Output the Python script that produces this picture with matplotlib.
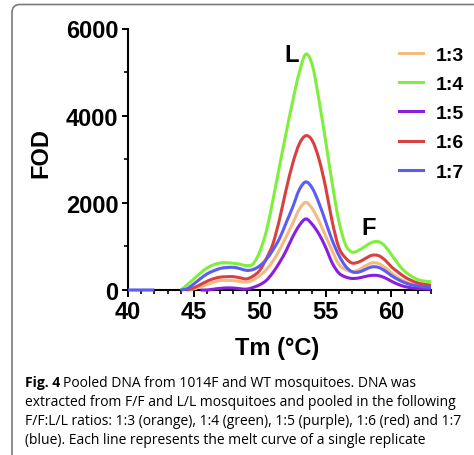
# Melt curves (FOD vs Tm) for pooled DNA at five F/F:L/L ratios
import numpy as np
import matplotlib.pyplot as plt
from matplotlib.patches import FancyBboxPatch, PathPatch
from matplotlib.path import Path
from matplotlib.lines import Line2D
from matplotlib.ticker import MultipleLocator

plt.rcParams['font.family'] = 'Liberation Sans'
plt.rcParams['font.weight'] = 'bold'
plt.rcParams['axes.labelweight'] = 'bold'

nan = np.nan

# temperature grid of the melt curves (deg C)
tm = [40.0, 40.5, 41.0, 41.5, 42.0, 42.5, 43.0, 43.5, 44.0, 44.5,
      45.0, 45.5, 46.0, 46.5, 47.0, 47.5, 48.0, 48.5, 49.0, 49.5,
      50.0, 50.5, 51.0, 51.5, 52.0, 52.5, 53.0, 53.5, 54.0, 54.5,
      55.0, 55.5, 56.0, 56.5, 57.0, 57.5, 58.0, 58.5, 59.0, 59.5,
      60.0, 60.5, 61.0, 61.5, 62.0, 62.5, 63.0]

fod_13 = [nan, nan, nan, nan, nan, nan, nan, nan, nan, 0,
          25, 75, 125, 180, 215, 220, 215, 195, 180, 230,
          330, 470, 660, 920, 1220, 1530, 1850, 2010, 1860, 1580,
          1240, 900, 590, 470, 420, 460, 550, 620, 610, 520,
          390, 280, 200, 140, 100, 75, 65]
fod_14 = [nan, nan, nan, nan, nan, nan, nan, nan, 0, 120,
          255, 390, 505, 580, 620, 625, 612, 590, 560, 600,
          880, 1350, 2060, 2840, 3600, 4330, 4990, 5410, 5150, 4350,
          3420, 2450, 1590, 1050, 870, 910, 1000, 1090, 1110, 1010,
          810, 600, 430, 320, 240, 205, 190]
fod_15 = [nan, nan, nan, nan, nan, nan, nan, nan, nan, nan,
          nan, 0, 0, 20, 38, 48, 45, 30, 20, 60,
          120, 220, 400, 630, 900, 1220, 1480, 1630, 1500, 1280,
          980, 620, 390, 300, 265, 275, 310, 335, 330, 280,
          200, 130, 80, 50, 35, 25, 20]
fod_16 = [nan, nan, nan, nan, nan, nan, nan, nan, nan, 0,
          50, 125, 200, 260, 295, 305, 305, 280, 255, 320,
          450, 720, 1060, 1620, 2300, 2900, 3350, 3540, 3420, 3000,
          2360, 1570, 980, 740, 620, 640, 720, 795, 790, 690,
          530, 410, 300, 220, 160, 130, 110]
fod_17 = [0, 0, 0, 0, 0, nan, nan, nan, 0, 30,
          140, 260, 370, 440, 495, 515, 520, 490, 450, 470,
          555, 700, 920, 1180, 1540, 1900, 2300, 2480, 2330, 1990,
          1570, 1140, 800, 550, 420, 410, 470, 530, 520, 440,
          330, 240, 170, 120, 90, 70, 60]

ratios = ['1:3', '1:4', '1:5', '1:6', '1:7']
colors = ['#f4bb80', '#7ef03c', '#8a1ee0', '#d9413f', '#5b5cf6']
series = [fod_13, fod_14, fod_15, fod_16, fod_17]


def smooth_path(xs, ys):
    """Cubic Bezier path through the points (Catmull-Rom tangents), gaps at NaN."""
    xs = np.asarray(xs, float)
    ys = np.asarray(ys, float)
    verts, codes = [], []
    ok = ~np.isnan(ys)
    i = 0
    while i < len(xs):
        if not ok[i]:
            i += 1
            continue
        j = i
        while j + 1 < len(xs) and ok[j + 1]:
            j += 1
        px, py = xs[i:j + 1], ys[i:j + 1]
        verts.append((px[0], py[0]))
        codes.append(Path.MOVETO)
        n = len(px)
        for k in range(n - 1):
            k0, k3 = max(k - 1, 0), min(k + 2, n - 1)
            c1 = (px[k] + (px[k + 1] - px[k0]) / 6, py[k] + (py[k + 1] - py[k0]) / 6)
            c2 = (px[k + 1] - (px[k3] - px[k]) / 6, py[k + 1] - (py[k3] - py[k]) / 6)
            verts += [c1, c2, (px[k + 1], py[k + 1])]
            codes += [Path.CURVE4] * 3
        i = j + 1
    return Path(verts, codes)


fig = plt.figure(figsize=(4.74, 4.56), dpi=100)
fig.patch.set_facecolor('white')

# rounded panel border
frame = FancyBboxPatch((0.12, -1.0), 6.0, 5.505,
                       boxstyle='round,pad=0,rounding_size=0.08',
                       transform=fig.dpi_scale_trans, fill=False,
                       edgecolor='#7a7a7a', linewidth=1.2)
fig.patches.append(frame)

ax = fig.add_axes([128 / 474, 1 - 291 / 456, 303 / 474, 261.5 / 456])

handles = []
for vals, lab, col in zip(series, ratios, colors):
    curve = PathPatch(smooth_path(tm, vals), facecolor='none', edgecolor=col,
                      lw=2.2, zorder=3, clip_on=False, capstyle='butt')
    ax.add_patch(curve)
    handles.append(Line2D([], [], color=col, lw=2.2, label=lab))

ax.set_xlim(40, 63)
ax.set_ylim(0, 6000)
ax.set_xticks([40, 45, 50, 55, 60])
ax.set_yticks([0, 2000, 4000, 6000])
ax.xaxis.set_minor_locator(MultipleLocator(1))
ax.yaxis.set_minor_locator(MultipleLocator(1000))

for s in ['top', 'right']:
    ax.spines[s].set_visible(False)
for s in ['left', 'bottom']:
    ax.spines[s].set_linewidth(1.5)

ax.tick_params(axis='x', which='major', length=5, width=1.4, labelsize=17, pad=2.5)
ax.tick_params(axis='x', which='minor', length=3, width=1.2)
ax.tick_params(axis='y', which='major', length=4.5, width=1.4, labelsize=17, pad=2.5)
ax.tick_params(axis='y', which='minor', length=3, width=1.2)

ax.set_xlabel('Tm (°C)', fontsize=17)
ax.xaxis.set_label_coords(0.492, -0.176)
ax.set_ylabel('FOD', fontsize=17)
ax.yaxis.set_label_coords(-0.248, 0.528)

# peak labels
ax.text(52.4, 5414, 'L', ha='center', va='center', fontsize=17)
ax.text(58.25, 1445, 'F', ha='center', va='center', fontsize=17)

ax.legend(handles=handles, loc='upper left', bbox_to_anchor=(399 / 474, 1 - 47 / 456),
          bbox_transform=fig.transFigure, frameon=False,
          prop={'size': 14, 'weight': 'bold'}, handlelength=1.25,
          handletextpad=0.65, labelspacing=0.6, borderpad=0, borderaxespad=0)

# caption
cap_font = dict(family='Open Sans', fontsize=10, va='baseline', fontweight='normal')
x0 = 25 / 474
head = fig.text(x0, 1 - 387 / 456, 'Fig. 4', **{**cap_font, 'fontweight': 'bold'})
rend = fig.canvas.get_renderer()
w = head.get_window_extent(renderer=rend).width
fig.text(x0 + (w + 3) / 474, 1 - 387 / 456,
         'Pooled DNA from 1014F and WT mosquitoes. DNA was', **cap_font)
fig.text(x0, 1 - 406 / 456,
         'extracted from F/F and L/L mosquitoes and pooled in the following', **cap_font)
fig.text(x0, 1 - 425 / 456,
         'F/F:L/L ratios: 1:3 (orange), 1:4 (green), 1:5 (purple), 1:6 (red) and 1:7',
         **cap_font)
fig.text(x0, 1 - 444 / 456,
         '(blue). Each line represents the melt curve of a single replicate', **cap_font)

plt.savefig('out.png', dpi=100)
